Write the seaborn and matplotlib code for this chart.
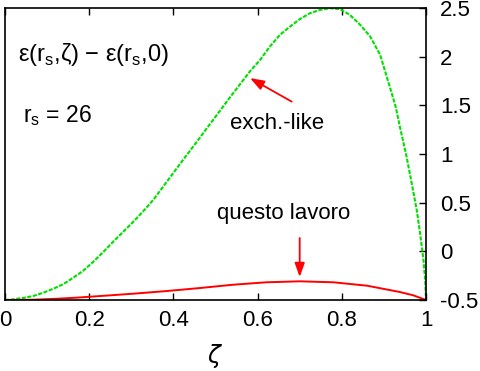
import numpy as np
import pandas as pd
import matplotlib
matplotlib.use("Agg")
import matplotlib.pyplot as plt
import seaborn as sns

# values
zeta_exch = [0.0, 0.02, 0.043, 0.067, 0.091, 0.115, 0.139, 0.162, 0.186, 0.210,
             0.234, 0.257, 0.281, 0.305, 0.329, 0.352, 0.368, 0.416, 0.458, 0.534,
             0.582, 0.606, 0.629, 0.653, 0.677, 0.701, 0.724, 0.748, 0.772, 0.796,
             0.819, 0.843, 0.867, 0.891, 0.914, 0.928, 0.938, 0.954, 0.966, 0.978,
             0.986, 0.994, 0.998, 1.0]
energy_exch = [-0.5, -0.493, -0.479, -0.459, -0.425, -0.384, -0.336, -0.271, -0.199, -0.106,
               -0.004, 0.099, 0.202, 0.305, 0.415, 0.528, 0.62, 0.90, 1.14, 1.58,
               1.85, 1.967, 2.103, 2.224, 2.309, 2.388, 2.446, 2.48, 2.498, 2.488,
               2.43, 2.33, 2.21, 2.02, 1.69, 1.487, 1.28, 0.97, 0.70, 0.425,
               0.185, -0.09, -0.29, -0.5]

zeta_lavoro = [0.0, 0.012, 0.067, 0.123, 0.17, 0.25, 0.305, 0.384, 0.463, 0.542,
               0.621, 0.70, 0.78, 0.86, 0.938, 0.97, 1.0]
energy_lavoro = [-0.5, -0.5, -0.497, -0.487, -0.476, -0.452, -0.435, -0.408, -0.377, -0.343,
                 -0.318, -0.308, -0.318, -0.353, -0.418, -0.452, -0.5]

x_ticks = [0, 0.2, 0.4, 0.6, 0.8, 1]
x_tick_labels = ["0", "0.2", "0.4", "0.6", "0.8", "1"]
y_ticks = [-0.5, 0, 0.5, 1, 1.5, 2, 2.5]
y_tick_labels = ["-0.5", "0", "0.5", "1", "1.5", "2", "2.5"]

sns.set_theme(style="white")
plt.rcParams["font.family"] = ["Liberation Sans", "DejaVu Sans"]
plt.rcParams["mathtext.fontset"] = "custom"
plt.rcParams["mathtext.rm"] = "Liberation Sans"
plt.rcParams["mathtext.it"] = "DejaVu Sans:italic"
plt.rcParams["text.color"] = "black"

df_exch = pd.DataFrame({"zeta": zeta_exch, "e": energy_exch})
df_lavoro = pd.DataFrame({"zeta": zeta_lavoro, "e": energy_lavoro})

fig = plt.figure(figsize=(4.8, 3.71), dpi=100)
ax = fig.add_axes([5 / 480, 71 / 371, 421 / 480, 292 / 371])

sns.lineplot(data=df_exch, x="zeta", y="e", ax=ax, color="#00e000",
             linewidth=1.5, linestyle=(0, (2, 0.7)), sort=False)
sns.lineplot(data=df_lavoro, x="zeta", y="e", ax=ax, color="#ff0000",
             linewidth=1.4, sort=False)

ax.set_xlim(0, 1)
ax.set_ylim(-0.5, 2.5)
ax.set_xticks(x_ticks)
ax.set_xticklabels(x_tick_labels)
ax.set_yticks(y_ticks)
ax.set_yticklabels(y_tick_labels)
ax.yaxis.tick_right()
ax.tick_params(axis="both", direction="in", length=5, width=1, color="black",
               labelsize=16, labelcolor="black")
ax.tick_params(axis="x", top=True, bottom=True, pad=7)
ax.tick_params(axis="y", left=False, right=True, labelright=True, labelleft=False, pad=10)
for side in ax.spines.values():
    side.set_color("black")
    side.set_linewidth(1.2)

ax.set_xlabel(r"$\zeta$", fontsize=17, color="black", labelpad=8)
ax.set_ylabel("")

ax.text(0.031, 0.842, r"ε(r$_\mathregular{s}$,ζ) − ε(r$_\mathregular{s}$,0)",
        transform=ax.transAxes, fontsize=17, va="center", ha="left")
ax.text(0.042, 0.63, r"r$_\mathregular{s}$ = 26",
        transform=ax.transAxes, fontsize=16.5, va="center", ha="left")
ax.text(0.534, 0.603, "exch.-like", transform=ax.transAxes,
        fontsize=16, va="center", ha="left")
ax.text(0.504, 0.296, "questo lavoro", transform=ax.transAxes,
        fontsize=16, va="center", ha="left")

arrow_kw = dict(arrowstyle="-|>,head_length=0.7,head_width=0.25", color="red",
                lw=1.3, mutation_scale=12, shrinkA=0, shrinkB=0)
ax.annotate("", xy=(0.582, 1.78), xytext=(0.681, 1.538), arrowprops=arrow_kw)
ax.annotate("", xy=(0.70, -0.264), xytext=(0.70, 0.137), arrowprops=arrow_kw)

fig.savefig("out.png", dpi=100)
